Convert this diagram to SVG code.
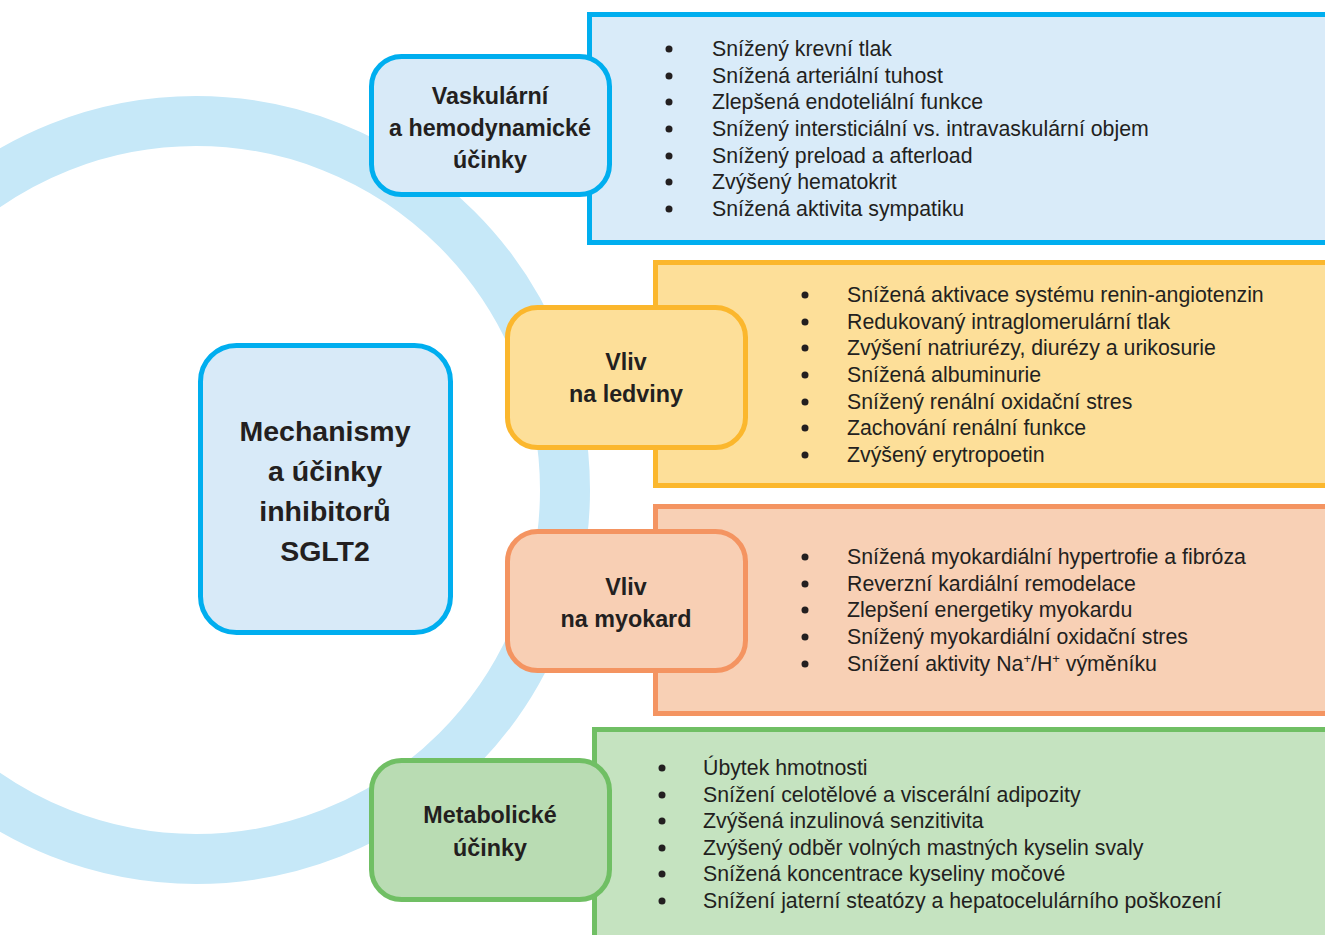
<svg xmlns="http://www.w3.org/2000/svg" width="1325" height="935" viewBox="0 0 1325 935">
<style>
  .lbl { font-family: "Liberation Sans", Arial, sans-serif; font-weight: bold; font-size: 23.3px; fill: #231f20; text-anchor: middle; }
  .main { font-family: "Liberation Sans", Arial, sans-serif; font-weight: bold; font-size: 28.5px; fill: #231f20; text-anchor: middle; }
  .itm { font-family: "Liberation Sans", Arial, sans-serif; font-size: 21.3px; fill: #231f20; }
  .dot { fill: #231f20; }
  .blueP { fill: #d9ebf9; stroke: #00aeef; stroke-width: 5; }
  .blueL { fill: #d8eaf8; stroke: #00aeef; stroke-width: 5; }
  .yelP { fill: #fddf99; stroke: #fbb72d; stroke-width: 5; }
  .yelL { fill: #fddf99; stroke: #fbb72d; stroke-width: 5; }
  .orP { fill: #f8d0b5; stroke: #f49461; stroke-width: 5; }
  .orL { fill: #f8cfb4; stroke: #f49461; stroke-width: 5; }
  .grP { fill: #c5e3c0; stroke: #70bf64; stroke-width: 5; }
  .grL { fill: #b9dcb3; stroke: #70bf64; stroke-width: 5; }
</style>
<rect width="1325" height="935" fill="#ffffff"/>
<g id="ring">
  <circle cx="196" cy="490" r="369" fill="none" stroke="#c6e8f8" stroke-width="50"/>
</g>
<g id="connectors"></g>

<g id="center">
  <rect x="200.5" y="345.5" width="250" height="287" rx="36" class="blueL"/>
  <text class="main" x="325" y="441">Mechanismy</text>
  <text class="main" x="325" y="481">a účinky</text>
  <text class="main" x="325" y="521">inhibitorů</text>
  <text class="main" x="325" y="561">SGLT2</text>
</g>

<g id="vascular">
  <rect x="589.5" y="14.5" width="750" height="228" class="blueP"/>
  <rect x="371.5" y="56.5" width="238" height="138" rx="30" class="blueL"/>
  <text class="lbl" x="490" y="104">Vaskulární</text>
  <text class="lbl" x="490" y="136">a hemodynamické</text>
  <text class="lbl" x="490" y="168">účinky</text>
  <g>
    <circle class="dot" cx="669" cy="49" r="3.5"/>
    <circle class="dot" cx="669" cy="76" r="3.5"/>
    <circle class="dot" cx="669" cy="102" r="3.5"/>
    <circle class="dot" cx="669" cy="129" r="3.5"/>
    <circle class="dot" cx="669" cy="156" r="3.5"/>
    <circle class="dot" cx="669" cy="182" r="3.5"/>
    <circle class="dot" cx="669" cy="209" r="3.5"/>
  </g>
  <text class="itm" x="712" y="56">Snížený krevní tlak</text>
  <text class="itm" x="712" y="83">Snížená arteriální tuhost</text>
  <text class="itm" x="712" y="109">Zlepšená endoteliální funkce</text>
  <text class="itm" x="712" y="136">Snížený intersticiální vs. intravaskulární objem</text>
  <text class="itm" x="712" y="163">Snížený preload a afterload</text>
  <text class="itm" x="712" y="189">Zvýšený hematokrit</text>
  <text class="itm" x="712" y="216">Snížená aktivita sympatiku</text>
</g>

<g id="kidney">
  <rect x="655.5" y="262.5" width="700" height="223" class="yelP"/>
  <rect x="507.5" y="307.5" width="238" height="140" rx="30" class="yelL"/>
  <text class="lbl" x="626" y="370">Vliv</text>
  <text class="lbl" x="626" y="402">na ledviny</text>
  <g>
    <circle class="dot" cx="805" cy="295" r="3.5"/>
    <circle class="dot" cx="805" cy="322" r="3.5"/>
    <circle class="dot" cx="805" cy="348" r="3.5"/>
    <circle class="dot" cx="805" cy="375" r="3.5"/>
    <circle class="dot" cx="805" cy="402" r="3.5"/>
    <circle class="dot" cx="805" cy="428" r="3.5"/>
    <circle class="dot" cx="805" cy="455" r="3.5"/>
  </g>
  <text class="itm" x="847" y="302">Snížená aktivace systému renin-angiotenzin</text>
  <text class="itm" x="847" y="329">Redukovaný intraglomerulární tlak</text>
  <text class="itm" x="847" y="355">Zvýšení natriurézy, diurézy a urikosurie</text>
  <text class="itm" x="847" y="382">Snížená albuminurie</text>
  <text class="itm" x="847" y="409">Snížený renální oxidační stres</text>
  <text class="itm" x="847" y="435">Zachování renální funkce</text>
  <text class="itm" x="847" y="462">Zvýšený erytropoetin</text>
</g>

<g id="myocard">
  <rect x="655.5" y="506.5" width="700" height="207" class="orP"/>
  <rect x="507.5" y="531.5" width="238" height="139" rx="30" class="orL"/>
  <text class="lbl" x="626" y="595">Vliv</text>
  <text class="lbl" x="626" y="627">na myokard</text>
  <g>
    <circle class="dot" cx="805" cy="557" r="3.5"/>
    <circle class="dot" cx="805" cy="584" r="3.5"/>
    <circle class="dot" cx="805" cy="610" r="3.5"/>
    <circle class="dot" cx="805" cy="637" r="3.5"/>
    <circle class="dot" cx="805" cy="664" r="3.5"/>
  </g>
  <text class="itm" x="847" y="564">Snížená myokardiální hypertrofie a fibróza</text>
  <text class="itm" x="847" y="591">Reverzní kardiální remodelace</text>
  <text class="itm" x="847" y="617">Zlepšení energetiky myokardu</text>
  <text class="itm" x="847" y="644">Snížený myokardiální oxidační stres</text>
  <text class="itm" x="847" y="671">Snížení aktivity Na<tspan font-size="13" dy="-8">+</tspan><tspan dy="8">/H</tspan><tspan font-size="13" dy="-8">+</tspan><tspan dy="8"> výměníku</tspan></text>
</g>

<g id="metabolic">
  <rect x="594.5" y="729.5" width="760" height="240" class="grP"/>
  <rect x="371.5" y="760.5" width="238" height="139" rx="30" class="grL"/>
  <text class="lbl" x="490" y="823">Metabolické</text>
  <text class="lbl" x="490" y="856">účinky</text>
  <g>
    <circle class="dot" cx="662" cy="768" r="3.5"/>
    <circle class="dot" cx="662" cy="795" r="3.5"/>
    <circle class="dot" cx="662" cy="821" r="3.5"/>
    <circle class="dot" cx="662" cy="848" r="3.5"/>
    <circle class="dot" cx="662" cy="874" r="3.5"/>
    <circle class="dot" cx="662" cy="901" r="3.5"/>
  </g>
  <text class="itm" x="703" y="775">Úbytek hmotnosti</text>
  <text class="itm" x="703" y="802">Snížení celotělové a viscerální adipozity</text>
  <text class="itm" x="703" y="828">Zvýšená inzulinová senzitivita</text>
  <text class="itm" x="703" y="855">Zvýšený odběr volných mastných kyselin svaly</text>
  <text class="itm" x="703" y="881">Snížená koncentrace kyseliny močové</text>
  <text class="itm" x="703" y="908">Snížení jaterní steatózy a hepatocelulárního poškození</text>
</g>
</svg>
